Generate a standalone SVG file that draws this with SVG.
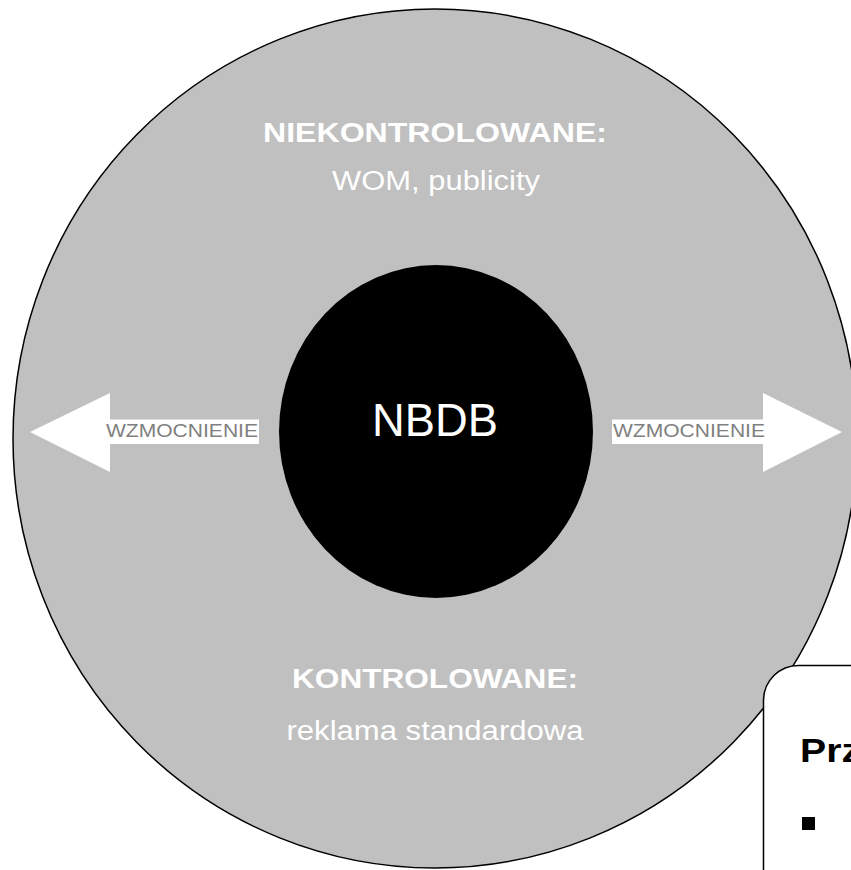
<svg xmlns="http://www.w3.org/2000/svg" width="851" height="870" viewBox="0 0 851 870">
  <style>
    .t { font-family: "Liberation Sans", Arial, sans-serif; }
    .head { font-weight: bold; font-size: 27px; fill: #ffffff; }
    .sub { font-size: 27px; fill: #ffffff; }
    .arrow { fill: #ffffff; stroke: none; }
    .lbl { font-size: 18px; fill: #808080; }
  </style>
  <rect x="0" y="0" width="851" height="870" fill="#ffffff"/>
  <g id="outer">
    <ellipse cx="435" cy="438.5" rx="422" ry="429.5" fill="#c0c0c0" stroke="#000000" stroke-width="1.5"/>
    <text class="t head" x="435" y="142" text-anchor="middle" textLength="344" lengthAdjust="spacingAndGlyphs">NIEKONTROLOWANE:</text>
    <text class="t sub" x="436" y="190" text-anchor="middle" textLength="208" lengthAdjust="spacingAndGlyphs">WOM, publicity</text>
    <text class="t head" x="435" y="688" text-anchor="middle" textLength="286" lengthAdjust="spacingAndGlyphs">KONTROLOWANE:</text>
    <text class="t sub" x="435" y="740" text-anchor="middle" textLength="297" lengthAdjust="spacingAndGlyphs">reklama standardowa</text>
  </g>
  <g id="connectors">
    <polygon class="arrow" points="30,432 110,393 110,419.5 259,419.5 259,444 110,444 110,472"/>
    <polygon class="arrow" points="842,432 763,393 763,419.5 612,419.5 612,444 763,444 763,472"/>
    <text class="t lbl" x="106" y="437" textLength="152" lengthAdjust="spacingAndGlyphs">WZMOCNIENIE</text>
    <text class="t lbl" x="613" y="437" textLength="152" lengthAdjust="spacingAndGlyphs">WZMOCNIENIE</text>
  </g>
  <g id="nbdb">
    <ellipse cx="436" cy="431.5" rx="157" ry="166.5" fill="#000000"/>
    <text class="t" x="435" y="436" text-anchor="middle" font-size="46" fill="#ffffff" textLength="126" lengthAdjust="spacingAndGlyphs">NBDB</text>
  </g>
  <g id="box">
    <path d="M763.5,880 L763.5,700 A35,35 0 0 1 798.5,665.5 L870,665.5" fill="#ffffff" stroke="#000000" stroke-width="1.5"/>
    <text class="t" x="800" y="762" font-size="34" font-weight="bold" fill="#000000" textLength="61" lengthAdjust="spacingAndGlyphs">Prz</text>
    <rect x="802" y="817" width="13" height="13" fill="#000000"/>
  </g>
</svg>
